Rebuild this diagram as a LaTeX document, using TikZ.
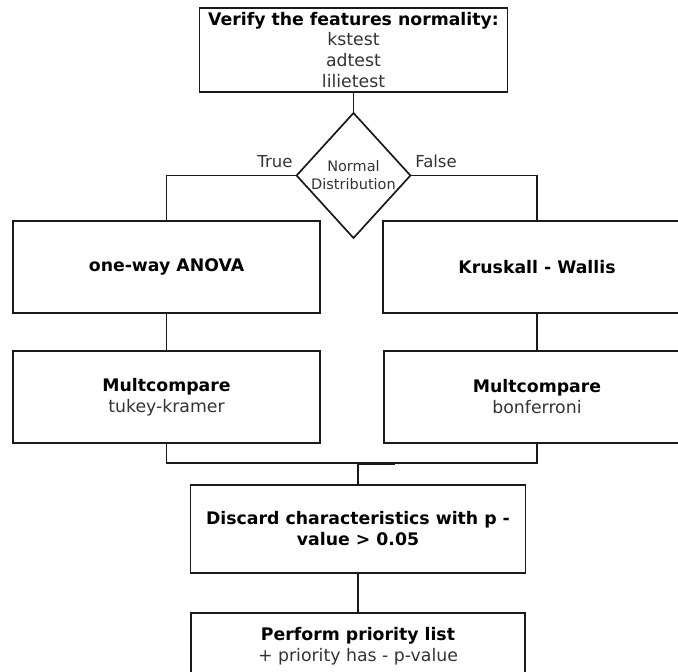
\documentclass[tikz,border=0pt]{standalone}
\usepackage{fontspec}
\setmainfont{DejaVu Sans}
\usetikzlibrary{shapes.geometric}
\definecolor{inkline}{HTML}{1A1A1A}
\definecolor{softtext}{HTML}{333333}
\begin{document}
\begin{tikzpicture}[x=1pt,y=-1pt,
  every node/.style={inner sep=0pt, outer sep=0pt},
  box/.style={draw=inkline, line width=1.7pt, rectangle, align=center,
              font=\fontsize{17.3}{21}\selectfont},
  flow/.style={draw=inkline, line width=1.7pt},
  branchlbl/.style={text=softtext, font=\fontsize{16.5}{19}\selectfont},
]
\useasboundingbox (0,0) rectangle (678,672);
\clip (0,0) rectangle (678,672);

% top: normality checks
\node[box, minimum width=308pt, minimum height=84pt] (verify) at (353.5,50)
  {\textbf{Verify the features normality:}\\[-1pt]
   \textcolor{softtext}{kstest}\\ \textcolor{softtext}{adtest}\\ \textcolor{softtext}{lilietest}};

% decision
\node[draw=inkline, line width=1.7pt, diamond, minimum width=108pt, minimum height=125pt,
      align=center, text=softtext, font=\fontsize{14.5}{18}\selectfont] (dist) at (353.5,175.5)
  {Normal\\Distribution};

% parametric branch
\node[box, minimum width=307pt, minimum height=92pt] (anova) at (166.5,267)
  {\textbf{one-way ANOVA}};
\node[box, minimum width=307pt, minimum height=92pt] (mc1) at (166.5,397)
  {\textbf{Multcompare}\\ \textcolor{softtext}{tukey-kramer}};

% non-parametric branch
\node[box, minimum width=308pt, minimum height=92pt] (kw) at (537,267)
  {\textbf{Kruskall - Wallis}};
\node[box, minimum width=306pt, minimum height=92pt] (mc2) at (537,397)
  {\textbf{Multcompare}\\ \textcolor{softtext}{bonferroni}};

% merge and final steps
\node[box, minimum width=335pt, minimum height=88pt] (discard) at (358,529)
  {\textbf{Discard characteristics with p -}\\ \textbf{value > 0.05}};
\node[box, minimum width=334pt, minimum height=67pt] (perform) at (358,646.5)
  {\textbf{Perform priority list}\\ \textcolor{softtext}{+ priority has - p-value}};

\coordinate (join) at (358,463);
\coordinate (joinr) at (395,463);

% connectors
\draw[flow] (verify.south) -- (dist.north);
\draw[flow] (dist.west) -| (anova.north);
\draw[flow] (dist.east) -| (kw.north);
\draw[flow] (anova.south) -- (mc1.north);
\draw[flow] (kw.south) -- (mc2.north);
\draw[flow] (mc1.south) |- (join) -| (mc2.south);
\draw[draw=inkline, line width=3pt] (join) -- (joinr);
\draw[flow] (join) -- (discard.north);
\draw[flow] (discard.south) -- (perform.north);

% branch labels
\node[branchlbl] (truelbl) at (275,162) {True};
\node[branchlbl] (falselbl) at (436,161) {False};
\end{tikzpicture}
\end{document}
